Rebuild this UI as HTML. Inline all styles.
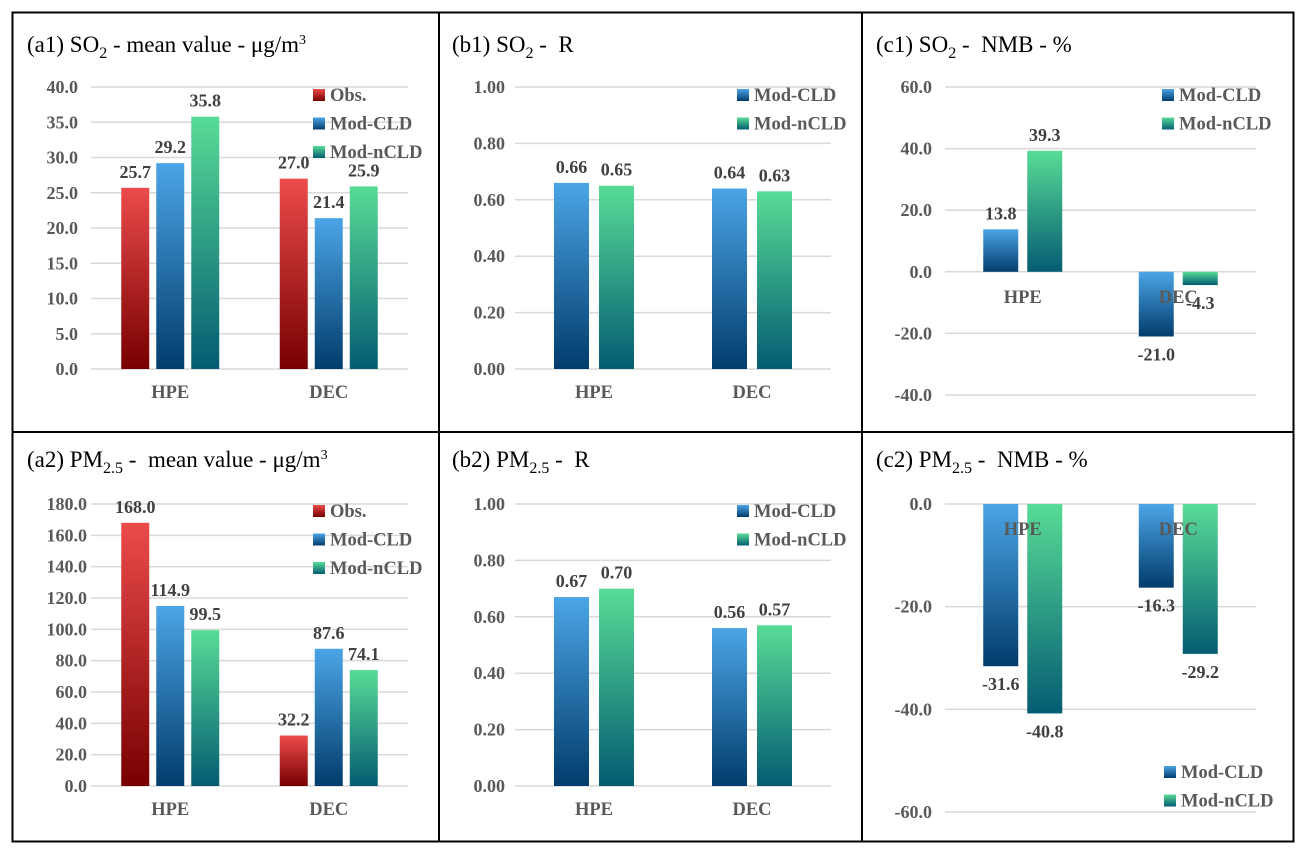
<!DOCTYPE html>
<html><head><meta charset="utf-8"><style>
html,body{margin:0;padding:0;background:#fff;}
svg{display:block;font-family:"Liberation Serif",serif;}
.tick{font-size:18px;font-weight:bold;fill:#595959;}
.val{font-size:18px;font-weight:bold;fill:#404040;}
.cat{font-size:18.5px;font-weight:bold;fill:#595959;}
.leg{font-size:18.5px;font-weight:bold;fill:#595959;}
.title{font-size:23px;fill:#000;}
</style></head><body>
<svg id="chart" width="1304" height="854" viewBox="0 0 1304 854" xmlns="http://www.w3.org/2000/svg">
<defs>
<linearGradient id="gObs" x1="0" y1="0" x2="0" y2="1"><stop offset="0" stop-color="#ec4b4b"/><stop offset="1" stop-color="#780000"/></linearGradient>
<linearGradient id="gCLD" x1="0" y1="0" x2="0" y2="1"><stop offset="0" stop-color="#4ba5e6"/><stop offset="1" stop-color="#023c6c"/></linearGradient>
<linearGradient id="gnCLD" x1="0" y1="0" x2="0" y2="1"><stop offset="0" stop-color="#58dc96"/><stop offset="1" stop-color="#045c72"/></linearGradient>
</defs>
<rect x="12.5" y="12.5" width="1281" height="829" fill="none" stroke="#000" stroke-width="2"/>
<line x1="439" y1="12" x2="439" y2="842" stroke="#000" stroke-width="2"/>
<line x1="862" y1="12" x2="862" y2="842" stroke="#000" stroke-width="2"/>
<line x1="12" y1="432" x2="1294" y2="432" stroke="#000" stroke-width="2"/>
<text class="title" x="27" y="52">(a1) SO<tspan font-size="16" dy="6">2</tspan><tspan dy="-6">&#160;- mean value - μg/m</tspan><tspan font-size="14" dy="-8">3</tspan></text>
<text class="title" x="452" y="52">(b1) SO<tspan font-size="16" dy="6">2</tspan><tspan dy="-6">&#160;-&#160;&#160;R</tspan></text>
<text class="title" x="876" y="52">(c1) SO<tspan font-size="16" dy="6">2</tspan><tspan dy="-6">&#160;-&#160;&#160;NMB - %</tspan></text>
<text class="title" x="27" y="467">(a2) PM<tspan font-size="16" dy="6">2.5</tspan><tspan dy="-6">&#160;-&#160;&#160;mean value - μg/m</tspan><tspan font-size="14" dy="-8">3</tspan></text>
<text class="title" x="452" y="467">(b2) PM<tspan font-size="16" dy="6">2.5</tspan><tspan dy="-6">&#160;-&#160;&#160;R</tspan></text>
<text class="title" x="876" y="467">(c2) PM<tspan font-size="16" dy="6">2.5</tspan><tspan dy="-6">&#160;-&#160;&#160;NMB - %</tspan></text>
</svg>
<script>
const categories = ["HPE", "DEC"];
const seriesNames3 = ["Obs.", "Mod-CLD", "Mod-nCLD"];
const seriesNames2 = ["Mod-CLD", "Mod-nCLD"];
const a1Obs = [25.7, 27.0];
const a1CLD = [29.2, 21.4];
const a1nCLD = [35.8, 25.9];
const b1CLD = [0.66, 0.64];
const b1nCLD = [0.65, 0.63];
const c1CLD = [13.8, -21.0];
const c1nCLD = [39.3, -4.3];
const a2Obs = [168.0, 32.2];
const a2CLD = [114.9, 87.6];
const a2nCLD = [99.5, 74.1];
const b2CLD = [0.67, 0.56];
const b2nCLD = [0.70, 0.57];
const c2CLD = [-31.6, -16.3];
const c2nCLD = [-40.8, -29.2];
const ticksA1 = [0, 5, 10, 15, 20, 25, 30, 35, 40];
const ticksA2 = [0, 20, 40, 60, 80, 100, 120, 140, 160, 180];
const ticksB = [0, 0.2, 0.4, 0.6, 0.8, 1.0];
const ticksC1 = [-40, -20, 0, 20, 40, 60];
const ticksC2 = [-60, -40, -20, 0];

const svg = document.getElementById('chart');
const NS = 'http://www.w3.org/2000/svg';
function mk(tag, attrs, txt) {
  const e = document.createElementNS(NS, tag);
  for (const k in attrs) e.setAttribute(k, attrs[k]);
  if (txt !== undefined) e.textContent = txt;
  svg.appendChild(e);
  return e;
}
const fills3 = ['url(#gObs)', 'url(#gCLD)', 'url(#gnCLD)'];
const fills2 = ['url(#gCLD)', 'url(#gnCLD)'];

function panel(p) {
  const yScale = v => p.yTop + (p.max - v) / (p.max - p.min) * (p.yBot - p.yTop);
  const catW = (p.x1 - p.x0) / categories.length;
  p.ticks.forEach(t => {
    const y = yScale(t);
    const g = mk('line', {x1: p.x0, x2: p.x1, y1: y, y2: y, stroke: '#d9d9d9', 'stroke-width': 1.5});
    
    
    const tl = mk('text', {class: 'tick', x: p.tickX, y: y + 6, 'text-anchor': 'end'}, t.toFixed(p.dec));
    
    
  });
  const n = p.series.length;
  const groupW = n * p.barW + (n - 1) * p.gap;
  const zeroY = yScale(Math.max(p.min, 0));
  categories.forEach((c, i) => {
    const cx = p.x0 + catW * (i + 0.5);
    p.series.forEach((s, j) => {
      const v = s[i];
      const bx = cx - groupW / 2 + j * (p.barW + p.gap);
      const yv = yScale(v);
      const top = Math.min(yv, zeroY), h = Math.abs(yv - zeroY);
      const r = mk('rect', {x: bx, y: top, width: p.barW, height: h, fill: p.fills[j]});
      
      
      const ly = v >= 0 ? yv - 10 : yv + 24;
      const t = mk('text', {class: 'val', x: bx + p.barW / 2, y: ly, 'text-anchor': 'middle'}, v.toFixed(p.vdec));
      
      
    });
    const cl = mk('text', {class: 'cat', x: cx, y: zeroY + p.catOff, 'text-anchor': 'middle'}, c);
    
    
  });
  p.names.forEach((nm, j) => {
    const ly = p.legY + j * 28.5;
    const sq = mk('rect', {x: p.legX, y: ly - 6, width: 12, height: 12, fill: p.fills[j]});
    
    
    const lt = mk('text', {class: 'leg', x: p.legX + 17, y: ly + 6}, nm);
    
    
  });
}

panel({id:'a1', x0:91, x1:408, yTop:87, yBot:369, min:0, max:40, ticks:ticksA1, dec:1, vdec:1, tickX:78,
  series:[a1Obs,a1CLD,a1nCLD], names:seriesNames3, fills:fills3, barW:28, gap:7, catOff:29, legX:313, legY:95});
panel({id:'a2', x0:91, x1:408, yTop:504, yBot:786, min:0, max:180, ticks:ticksA2, dec:1, vdec:1, tickX:87,
  series:[a2Obs,a2CLD,a2nCLD], names:seriesNames3, fills:fills3, barW:28, gap:7, catOff:29, legX:313, legY:511});
panel({id:'b1', x0:515, x1:831, yTop:87, yBot:369, min:0, max:1, ticks:ticksB, dec:2, vdec:2, tickX:505,
  series:[b1CLD,b1nCLD], names:seriesNames2, fills:fills2, barW:35, gap:10, catOff:29, legX:737, legY:95});
panel({id:'b2', x0:515, x1:831, yTop:504, yBot:786, min:0, max:1, ticks:ticksB, dec:2, vdec:2, tickX:505,
  series:[b2CLD,b2nCLD], names:seriesNames2, fills:fills2, barW:35, gap:10, catOff:29, legX:737, legY:511});
panel({id:'c1', x0:945, x1:1256, yTop:87, yBot:395, min:-40, max:60, ticks:ticksC1, dec:1, vdec:1, tickX:932,
  series:[c1CLD,c1nCLD], names:seriesNames2, fills:fills2, barW:35, gap:9, catOff:31, legX:1162, legY:95});
panel({id:'c2', x0:945, x1:1256, yTop:504, yBot:812, min:-60, max:0, ticks:ticksC2, dec:1, vdec:1, tickX:932,
  series:[c2CLD,c2nCLD], names:seriesNames2, fills:fills2, barW:35, gap:9, catOff:31, legX:1164, legY:772});
</script>
</body></html>
